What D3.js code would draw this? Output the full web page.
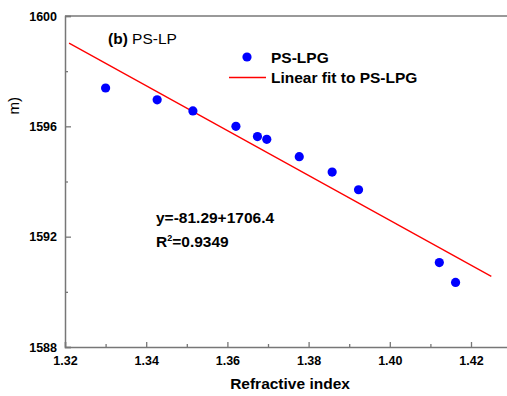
<!DOCTYPE html>
<html>
<head>
<meta charset="utf-8">
<script src="https://cdn.jsdelivr.net/npm/d3@7/dist/d3.min.js"></script>
<style>
  html, body { margin: 0; padding: 0; background: #fff; }
  svg { display: block; font-family: "Liberation Sans", Arial, sans-serif; }
</style>
</head>
<body>
<svg id="chart" width="507" height="396"></svg>
<script>
// Measured resonance wavelength of the PS-LPG versus surrounding refractive index
const refractiveIndex = [1.330, 1.3427, 1.3515, 1.3621, 1.3674, 1.3697, 1.3777, 1.3858, 1.3923, 1.4122, 1.4162];
const wavelength      = [1597.39, 1596.96, 1596.56, 1596.00, 1595.63, 1595.53, 1594.90, 1594.34, 1593.70, 1591.06, 1590.34];

// Linear fit: y = slope * n + intercept, drawn over this index span
const fitSlope = -81.29;
const fitIntercept = 1706.4;
const fitSpan = [1.321, 1.425];

const xMajorTicks = [1.32, 1.34, 1.36, 1.38, 1.40, 1.42];
const xMinorTicks = [1.33, 1.35, 1.37, 1.39, 1.41];
const yMajorTicks = [1588, 1592, 1596, 1600];
const yMinorTicks = [1590, 1594, 1598];

const svg = d3.select("#chart");
const plotLeft = 65, plotTop = 16, plotBottom = 347;

const x = d3.scaleLinear().domain([1.32, 1.43]).range([plotLeft, plotLeft + 0.11 * 4060]);
const y = d3.scaleLinear().domain([1588, 1600]).range([plotBottom, plotTop]);

const axisColor = "#777";

// top frame line
svg.append("line")
  .attr("x1", x(1.32)).attr("x2", x(1.43))
  .attr("y1", y(1600)).attr("y2", y(1600))
  .attr("stroke", axisColor).attr("stroke-width", 1.5);

function styleAxis(g) {
  g.select(".domain").attr("stroke", axisColor).attr("stroke-width", 1.5);
  g.selectAll(".tick line").attr("stroke", axisColor).attr("stroke-width", 1.3);
  g.selectAll(".tick text")
    .attr("fill", "#000")
    .attr("font-size", 12.5)
    .attr("font-weight", "bold")
    .attr("font-family", "'Liberation Sans', Arial, sans-serif");
}

// x axis (ticks point inward)
svg.append("g")
  .attr("transform", `translate(0,${plotBottom})`)
  .call(d3.axisBottom(x).tickValues(xMajorTicks).tickSize(-5).tickPadding(9).tickFormat(d3.format(".2f")))
  .call(styleAxis);
svg.append("g")
  .attr("transform", `translate(0,${plotBottom})`)
  .call(d3.axisBottom(x).tickValues(xMinorTicks).tickSize(-3).tickFormat(""))
  .call(g => { g.select(".domain").remove(); g.selectAll(".tick line").attr("stroke", axisColor).attr("stroke-width", 1.3); });

// y axis (ticks point inward)
svg.append("g")
  .attr("transform", `translate(${plotLeft},0)`)
  .call(d3.axisLeft(y).tickValues(yMajorTicks).tickSize(-6).tickPadding(8).tickFormat(d3.format("d")))
  .call(styleAxis);
svg.append("g")
  .attr("transform", `translate(${plotLeft},0)`)
  .call(d3.axisLeft(y).tickValues(yMinorTicks).tickSize(-3).tickFormat(""))
  .call(g => { g.select(".domain").remove(); g.selectAll(".tick line").attr("stroke", axisColor).attr("stroke-width", 1.3); });

// axis titles
svg.append("text")
  .attr("x", 290).attr("y", 389)
  .attr("text-anchor", "middle")
  .attr("font-size", 15.5).attr("font-weight", "bold")
  .text("Refractive index");

svg.append("text")
  .attr("transform", "translate(19,97) rotate(-90)")
  .attr("text-anchor", "end")
  .attr("font-size", 15)
  .text("m)");

// fit line
const fitLine = d3.line().x(d => x(d)).y(d => y(fitSlope * d + fitIntercept));
svg.append("path")
  .datum(fitSpan)
  .attr("d", fitLine)
  .attr("fill", "none")
  .attr("stroke", "#ff0000")
  .attr("stroke-width", 1.3);

// data points
svg.append("g")
  .selectAll("circle")
  .data(refractiveIndex.map((n, i) => [n, wavelength[i]]))
  .join("circle")
  .attr("cx", d => x(d[0]))
  .attr("cy", d => y(d[1]))
  .attr("r", 4.6)
  .attr("fill", "#0000ff");

// panel label
const panel = svg.append("text").attr("x", 108).attr("y", 44).attr("font-size", 15.5);
panel.append("tspan").attr("font-weight", "bold").text("(b)");
panel.append("tspan").text(" PS-LP");

// legend
svg.append("circle").attr("cx", 247).attr("cy", 57).attr("r", 4.6).attr("fill", "#0000ff");
svg.append("line").attr("x1", 229).attr("x2", 266).attr("y1", 77.5).attr("y2", 77.5)
  .attr("stroke", "#ff0000").attr("stroke-width", 1.3);
svg.append("text").attr("x", 271).attr("y", 63).attr("font-size", 15.5).attr("font-weight", "bold")
  .text("PS-LPG");
svg.append("text").attr("x", 271).attr("y", 83).attr("font-size", 15.5).attr("font-weight", "bold")
  .text("Linear fit to PS-LPG");

// fit equation
svg.append("text").attr("x", 156).attr("y", 223).attr("font-size", 15.5).attr("font-weight", "bold")
  .text(`y=${fitSlope}+${fitIntercept}`);
const r2 = svg.append("text").attr("x", 156).attr("y", 247).attr("font-size", 15.5).attr("font-weight", "bold");
r2.append("tspan").text("R");
r2.append("tspan").attr("font-size", 9).attr("dy", -6).text("2");
r2.append("tspan").attr("dy", 6).text("=0.9349");
</script>
</body>
</html>
